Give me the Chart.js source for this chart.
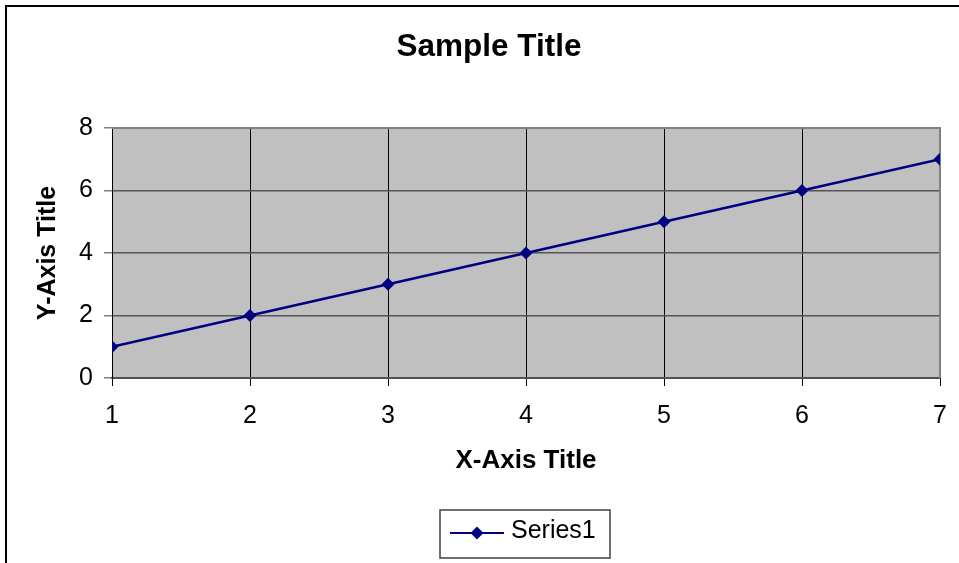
<!DOCTYPE html>
<html>
<head>
<meta charset="utf-8">
<script src="https://cdn.jsdelivr.net/npm/chart.js@4.4.0/dist/chart.umd.min.js"></script>
<style>
  html, body { margin: 0; padding: 0; background: #fff; }
  #wrap { position: relative; width: 959px; height: 563px; }
</style>
</head>
<body>
<div id="wrap"><canvas id="lineChart"></canvas></div>
<script>
// chart values
var xValues = [1, 2, 3, 4, 5, 6, 7];
var series1 = [1, 2, 3, 4, 5, 6, 7];
var yTicks = [0, 2, 4, 6, 8];
var seriesName = 'Series1';
var chartTitle = 'Sample Title';

var FONT = "'Liberation Sans', Arial, sans-serif";
var NAVY = '#000080';

// Frame, gray plot area, title, top/right plot border and the legend box
var excelLook = {
  id: 'excelLook',
  beforeDraw: function(chart) {
    var ctx = chart.ctx;
    var a = chart.chartArea;
    ctx.save();
    ctx.fillStyle = '#fff';
    ctx.fillRect(0, 0, chart.width, chart.height);
    ctx.fillStyle = '#C0C0C0';
    ctx.fillRect(a.left, a.top, a.right - a.left, a.bottom - a.top);
    // outer frame (only left and top show in the picture)
    ctx.strokeStyle = '#000';
    ctx.lineWidth = 2;
    ctx.beginPath();
    ctx.moveTo(6, chart.height);
    ctx.lineTo(6, 6);
    ctx.lineTo(chart.width, 6);
    ctx.stroke();
    // title sits a little right of the canvas centre, like the original
    ctx.fillStyle = '#000';
    ctx.font = 'bold 31.5px ' + FONT;
    ctx.textAlign = 'center';
    ctx.textBaseline = 'middle';
    ctx.fillText(chartTitle, 489, 47);
    ctx.restore();
  },
  beforeDatasetsDraw: function(chart) {
    var ctx = chart.ctx;
    var a = chart.chartArea;
    ctx.save();
    ctx.strokeStyle = '#808080';
    ctx.lineWidth = 2;
    ctx.beginPath();
    ctx.moveTo(a.left, a.top);
    ctx.lineTo(a.right, a.top);
    ctx.lineTo(a.right, a.bottom);
    ctx.stroke();
    ctx.restore();
  },
  afterDraw: function(chart) {
    var ctx = chart.ctx;
    ctx.save();
    ctx.strokeStyle = '#404040';
    ctx.lineWidth = 1.5;
    ctx.strokeRect(440, 510, 170, 48);
    var ly = 533;
    ctx.strokeStyle = NAVY;
    ctx.lineWidth = 2;
    ctx.beginPath();
    ctx.moveTo(450, ly);
    ctx.lineTo(504, ly);
    ctx.stroke();
    ctx.fillStyle = NAVY;
    ctx.beginPath();
    ctx.moveTo(477, ly - 6.5);
    ctx.lineTo(483.5, ly);
    ctx.lineTo(477, ly + 6.5);
    ctx.lineTo(470.5, ly);
    ctx.closePath();
    ctx.fill();
    ctx.fillStyle = '#000';
    ctx.font = '25px ' + FONT;
    ctx.textAlign = 'left';
    ctx.textBaseline = 'middle';
    ctx.fillText(chart.data.datasets[0].label, 511, 531);
    ctx.restore();
  }
};

var ctx = document.getElementById('lineChart').getContext('2d');
var lineChart = new Chart(ctx, {
  type: 'line',
  data: {
    datasets: [
      {
        label: seriesName,
        data: xValues.map(function(x, i) { return { x: x, y: series1[i] }; }),
        borderColor: NAVY,
        backgroundColor: NAVY,
        borderWidth: 2.5,
        pointStyle: 'rectRot',
        pointRadius: 6.5,
        pointBorderWidth: 0,
        pointBackgroundColor: NAVY,
        tension: 0
      }
    ]
  },
  options: {
    responsive: true,
    maintainAspectRatio: false,
    animation: false,
    layout: { padding: { left: 0, right: 19, top: 128, bottom: 65 } },
    plugins: {
      legend: { display: false },
      tooltip: { enabled: false },
      title: { display: false }
    },
    scales: {
      x: {
        type: 'linear',
        min: 1,
        max: 7,
        afterFit: function(scale) {
          scale.height = 120;
          scale.paddingLeft = 0;
          scale.paddingRight = 0;
        },
        ticks: {
          stepSize: 1,
          color: '#000',
          padding: 15,
          font: { family: FONT, size: 25 }
        },
        grid: {
          color: '#000',
          lineWidth: 1,
          tickColor: '#000',
          tickLength: 8
        },
        border: { color: '#505050', width: 2 },
        title: {
          display: true,
          text: 'X-Axis Title',
          color: '#000',
          font: { family: FONT, size: 26, weight: 'bold', lineHeight: 1.2 },
          padding: { top: 0, bottom: 22 }
        }
      },
      y: {
        min: 0,
        max: 8,
        afterFit: function(scale) { scale.width = 112; },
        afterBuildTicks: function(scale) {
          scale.ticks = yTicks.map(function(v) { return { value: v }; });
        },
        ticks: {
          color: '#000',
          padding: 11,
          font: { family: FONT, size: 25 }
        },
        grid: {
          color: '#555',
          lineWidth: 1.5,
          tickColor: '#808080',
          tickLength: 8
        },
        border: { color: '#000', width: 1 },
        title: {
          display: true,
          text: 'Y-Axis Title',
          color: '#000',
          font: { family: FONT, size: 25, weight: 'bold', lineHeight: 1.2 },
          padding: { top: 33, bottom: 0 }
        }
      }
    }
  },
  plugins: [excelLook]
});
</script>
</body>
</html>
